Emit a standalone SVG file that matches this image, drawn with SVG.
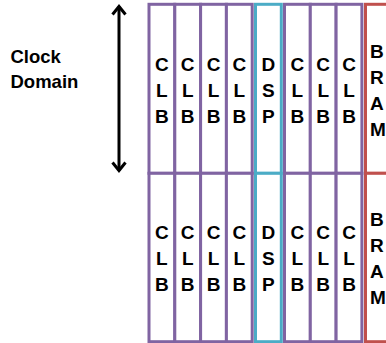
<svg xmlns="http://www.w3.org/2000/svg" width="386" height="343" viewBox="0 0 386 343">
<defs>
<style>
.t{font-family:"Liberation Sans",Arial,sans-serif;font-weight:bold;font-size:19px;fill:#000}
.lbl{font-family:"Liberation Sans",Arial,sans-serif;font-weight:bold;font-size:18.5px;fill:#000}
.clb rect{fill:#fff;stroke:#8064A2;stroke-width:3}
.dsp rect{fill:#fff;stroke:#4BACC6;stroke-width:3}
.bram rect{fill:#fff;stroke:#C0504D;stroke-width:3}
</style>
<marker id="ah" markerUnits="userSpaceOnUse" viewBox="0 0 20 20" markerWidth="20" markerHeight="20" refX="10" refY="10" orient="auto-start-reverse" overflow="visible">
<path d="M2,3.5 L10,10 L2,16.5" fill="none" stroke="#000" stroke-width="3"/>
</marker>
</defs>
<rect width="386" height="343" fill="#fff"/>
<g id="clock-domain-label">
<text class="lbl" x="10.5" y="62.5">Clock</text>
<text class="lbl" x="10.5" y="87.5">Domain</text>
</g>
<g id="connectors">
<line x1="119" y1="6.5" x2="119" y2="170.5" stroke="#000" stroke-width="3" marker-start="url(#ah)" marker-end="url(#ah)"/>
</g>
<g id="bram-top" class="bram"><rect x="365.5" y="4.3" width="40" height="169"/>
<text class="t" x="370" y="58">B</text><text class="t" x="370" y="84">R</text><text class="t" x="370" y="110">A</text><text class="t" x="370" y="136">M</text></g>
<g id="bram-bottom" class="bram"><rect x="365.5" y="173.3" width="40" height="168.4"/>
<text class="t" x="370" y="226">B</text><text class="t" x="370" y="252">R</text><text class="t" x="370" y="278">A</text><text class="t" x="370" y="304">M</text></g>
<g text-anchor="middle">
<g id="clb-1-top" class="clb"><rect x="149" y="4.3" width="25.8" height="169"/><text class="t" x="161.9" y="71">C</text><text class="t" x="161.9" y="97">L</text><text class="t" x="161.9" y="123">B</text></g>
<g id="clb-2-top" class="clb"><rect x="174.8" y="4.3" width="25.8" height="169"/><text class="t" x="187.7" y="71">C</text><text class="t" x="187.7" y="97">L</text><text class="t" x="187.7" y="123">B</text></g>
<g id="clb-3-top" class="clb"><rect x="200.6" y="4.3" width="25.8" height="169"/><text class="t" x="213.5" y="71">C</text><text class="t" x="213.5" y="97">L</text><text class="t" x="213.5" y="123">B</text></g>
<g id="clb-4-top" class="clb"><rect x="226.4" y="4.3" width="25.8" height="169"/><text class="t" x="239.3" y="71">C</text><text class="t" x="239.3" y="97">L</text><text class="t" x="239.3" y="123">B</text></g>
<g id="dsp-top" class="dsp"><rect x="255.5" y="4.3" width="25.8" height="169"/><text class="t" x="268.4" y="71">D</text><text class="t" x="268.4" y="97">S</text><text class="t" x="268.4" y="123">P</text></g>
<g id="clb-5-top" class="clb"><rect x="284.5" y="4.3" width="25.8" height="169"/><text class="t" x="297.4" y="71">C</text><text class="t" x="297.4" y="97">L</text><text class="t" x="297.4" y="123">B</text></g>
<g id="clb-6-top" class="clb"><rect x="310.3" y="4.3" width="25.8" height="169"/><text class="t" x="323.2" y="71">C</text><text class="t" x="323.2" y="97">L</text><text class="t" x="323.2" y="123">B</text></g>
<g id="clb-7-top" class="clb"><rect x="336.1" y="4.3" width="25.8" height="169"/><text class="t" x="349" y="71">C</text><text class="t" x="349" y="97">L</text><text class="t" x="349" y="123">B</text></g>

<g id="clb-1-bottom" class="clb"><rect x="149" y="173.3" width="25.8" height="168.4"/><text class="t" x="161.9" y="239">C</text><text class="t" x="161.9" y="265">L</text><text class="t" x="161.9" y="291">B</text></g>
<g id="clb-2-bottom" class="clb"><rect x="174.8" y="173.3" width="25.8" height="168.4"/><text class="t" x="187.7" y="239">C</text><text class="t" x="187.7" y="265">L</text><text class="t" x="187.7" y="291">B</text></g>
<g id="clb-3-bottom" class="clb"><rect x="200.6" y="173.3" width="25.8" height="168.4"/><text class="t" x="213.5" y="239">C</text><text class="t" x="213.5" y="265">L</text><text class="t" x="213.5" y="291">B</text></g>
<g id="clb-4-bottom" class="clb"><rect x="226.4" y="173.3" width="25.8" height="168.4"/><text class="t" x="239.3" y="239">C</text><text class="t" x="239.3" y="265">L</text><text class="t" x="239.3" y="291">B</text></g>
<g id="dsp-bottom" class="dsp"><rect x="255.5" y="173.3" width="25.8" height="168.4"/><text class="t" x="268.4" y="239">D</text><text class="t" x="268.4" y="265">S</text><text class="t" x="268.4" y="291">P</text></g>
<g id="clb-5-bottom" class="clb"><rect x="284.5" y="173.3" width="25.8" height="168.4"/><text class="t" x="297.4" y="239">C</text><text class="t" x="297.4" y="265">L</text><text class="t" x="297.4" y="291">B</text></g>
<g id="clb-6-bottom" class="clb"><rect x="310.3" y="173.3" width="25.8" height="168.4"/><text class="t" x="323.2" y="239">C</text><text class="t" x="323.2" y="265">L</text><text class="t" x="323.2" y="291">B</text></g>
<g id="clb-7-bottom" class="clb"><rect x="336.1" y="173.3" width="25.8" height="168.4"/><text class="t" x="349" y="239">C</text><text class="t" x="349" y="265">L</text><text class="t" x="349" y="291">B</text></g>
</g>
</svg>
